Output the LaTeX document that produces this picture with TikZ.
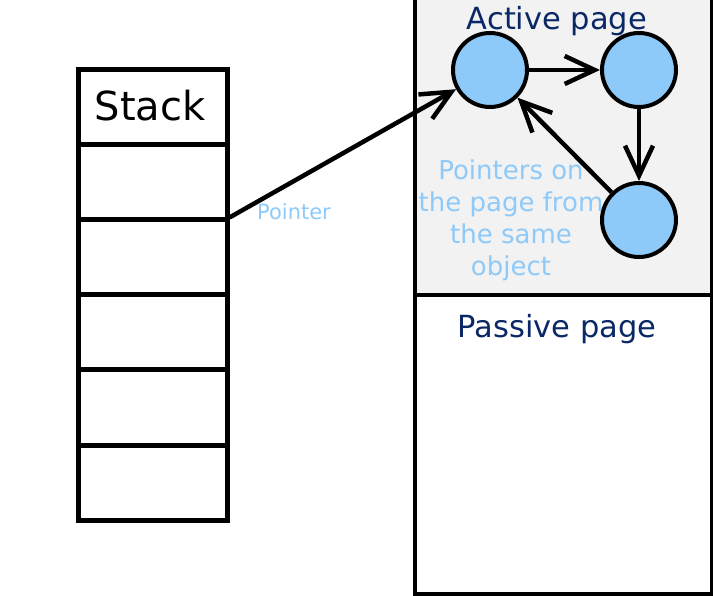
\documentclass[tikz,border=0pt]{standalone}
\usepackage{fontspec}
\setmainfont{DejaVu Sans}
\usetikzlibrary{arrows.meta}
\definecolor{navy}{RGB}{10,40,102}
\definecolor{skyblue}{RGB}{142,202,249}
\definecolor{pagegray}{RGB}{242,242,242}
\begin{document}
\begin{tikzpicture}[x=1pt,y=-1pt]
    \tikzstyle{cell} = [rectangle, minimum width=149pt, minimum height=75pt, inner sep=0pt, draw=black, line width=5pt]
    \tikzstyle{obj} = [circle, minimum size=74pt, inner sep=0pt, fill=skyblue, draw=black, line width=4pt]
    \tikzstyle{arrow} = [line width=4.5pt, -{Straight Barb[length=30pt,width=28pt]}]
    \tikzstyle{pagetext} = [text=navy, font=\fontsize{30.5}{36}\selectfont, anchor=base]
    \clip (0,0) rectangle (713,596);
    % pages
    \node (active) [rectangle, fill=pagegray, minimum width=297pt, minimum height=315pt, inner sep=0pt] at (563.5,137.5) {};
    \draw[line width=4.5pt] (415,-10) rectangle (712,594);
    \draw[line width=4.5pt] (415,295) -- (713,295);
    \node (alabel) [pagetext] at (557,30) {Active page};
    \node (plabel) [pagetext] at (557,338) {Passive page};
    % stack
    \node (s0) [cell] at (152.5,107.5) {};
    \node (s1) [cell] at (152.5,182.5) {};
    \node (s2) [cell] at (152.5,257.5) {};
    \node (s3) [cell] at (152.5,332.5) {};
    \node (s4) [cell] at (152.5,407.5) {};
    \node (s5) [cell] at (152.5,482.5) {};
    \node (title) [anchor=base, font=\fontsize{40}{48}\selectfont] at (150,121) {Stack};
    % objects
    \node (a) [obj] at (490,70) {};
    \node (b) [obj] at (639,70) {};
    \node (c) [obj] at (639,220) {};
    \coordinate (ptr) at (s2.north east);
    \draw[arrow] (ptr) to (a);
    \draw[arrow] (a) to (b);
    \draw[arrow] (b) to (c);
    \draw[arrow] (c) to (a);
    \node (plbl) [anchor=base, text=skyblue, font=\fontsize{21}{25}\selectfont] at (294,220) {Pointer};
    \node (note) [anchor=base, align=center, text=skyblue, font=\fontsize{26}{32}\selectfont] at (511,276) {Pointers on\\the page from\\the same\\object};
  \end{tikzpicture}
\end{document}
